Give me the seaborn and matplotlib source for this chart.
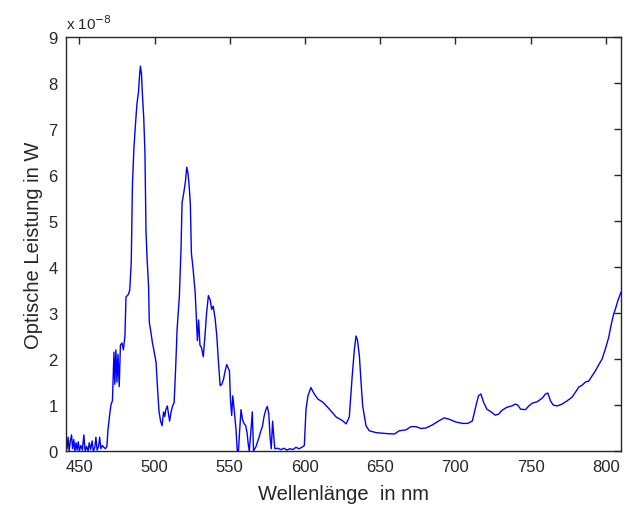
import matplotlib
matplotlib.use("Agg")
import matplotlib.pyplot as plt
import numpy as np
import pandas as pd
import seaborn as sns

# wavelength in nm, optical power in units of 1e-8 W
wavelength = [
    441, 441.8, 442.5, 443.2, 444, 444.8, 445.5, 446.3, 447, 447.8,
    448.5, 449.3, 450, 451, 452, 453, 453.8, 454.8, 455.8, 456.6,
    457.5, 458.5, 459.3, 460.3, 461, 461.8, 462.8, 463.5, 464.3, 465.3,
    466.3, 467.3, 468.3, 469, 470, 471, 472, 473, 473.6, 474.3,
    475, 475.7, 476.5, 477.3, 478.3, 479.3, 480.3, 481, 482.5, 483.5,
    484.5, 485.3, 486.3, 487.3, 488.3, 489.3, 490, 490.6, 491.3, 492,
    492.8, 493.6, 494.3, 495, 496, 496.5, 497.5, 498.5, 499.5, 501,
    502, 503, 504, 505, 506, 506.8, 507.5, 508.5, 509.3, 510,
    511, 512, 513, 514, 515, 516.5, 517.6, 518.3, 519.5, 520.5,
    521.4, 522.2, 523, 523.8, 524.5, 525.5, 527, 528.5, 529.3, 530.2,
    531.2, 532.4, 533.5, 534.6, 535.8, 537, 538, 539, 540.3, 541.4,
    542.5, 543.6, 544.7, 545.8, 547, 548, 549, 549.8, 550.5, 551.3,
    552, 552.8, 553.5, 554.2, 555, 555.8, 556.5, 557.5, 558.5, 559.5,
    560.6, 561.5, 562.3, 563, 564, 565, 565.8, 567.5, 569.5, 570.6,
    571.7, 572.8, 574, 575, 576, 576.8, 577.6, 578.5, 579.3, 580,
    582, 584, 586, 588, 590, 592, 594, 596, 598, 599.6,
    600.7, 602, 604, 606, 608.6, 612, 616.3, 620.7, 625, 627.4,
    629.5, 631.3, 632.9, 634, 635, 636.2, 637.3, 638.4, 640.6, 642.8,
    647.3, 653.9, 659.5, 662.8, 667.2, 670.5, 673.8, 677.1, 680.5, 684.9,
    689.3, 692.6, 696, 700.4, 704.8, 708.2, 711.3, 713.7, 715.4, 717,
    718.8, 721, 724.3, 726.5, 728.7, 730.9, 734.2, 737.6, 739.8, 741.5,
    743.4, 746.7, 748.9, 751.1, 754.4, 757.8, 760, 761.5, 763.3, 765.1,
    767.7, 771, 774.3, 777.6, 779.9, 782.1, 784.3, 786.5, 788.7, 790.9,
    793.1, 795.3, 797.6, 799.8, 802, 803.5, 805.3, 806.4, 808, 809.7,
    810,
]
power = [
    0.40, 0.05, 0.30, 0.00, 0.22, 0.35, 0.05, 0.25, 0.00, 0.18,
    0.02, 0.20, 0.00, 0.12, 0.02, 0.35, 0.00, 0.10, 0.00, 0.18,
    0.03, 0.22, 0.00, 0.08, 0.30, 0.02, 0.10, 0.30, 0.05, 0.12,
    0.08, 0.05, 0.10, 0.45, 0.75, 1.00, 1.10, 2.15, 1.45, 2.20,
    1.50, 2.10, 1.40, 2.30, 2.35, 2.20, 2.50, 3.35, 3.40, 3.50,
    4.10, 5.80, 6.60, 7.10, 7.55, 7.80, 8.15, 8.37, 8.20, 7.70,
    7.25, 6.50, 4.80, 4.20, 3.60, 2.80, 2.60, 2.37, 2.20, 1.93,
    1.35, 0.85, 0.65, 0.55, 0.85, 0.75, 0.90, 0.98, 0.80, 0.65,
    0.85, 0.98, 1.05, 1.78, 2.65, 3.37, 4.40, 5.40, 5.63, 5.85,
    6.17, 6.05, 5.77, 5.37, 4.30, 4.00, 3.45, 2.40, 2.85, 2.30,
    2.25, 2.05, 2.50, 3.00, 3.38, 3.28, 3.08, 3.15, 2.87, 2.50,
    1.93, 1.42, 1.45, 1.55, 1.75, 1.88, 1.80, 1.74, 1.10, 0.77,
    1.20, 0.95, 0.70, 0.45, 0.00, 0.00, 0.40, 0.90, 0.68, 0.60,
    0.55, 0.40, 0.15, 0.00, 0.40, 0.85, 0.00, 0.10, 0.30, 0.43,
    0.53, 0.75, 0.90, 0.97, 0.80, 0.30, 0.05, 0.65, 0.30, 0.05,
    0.06, 0.03, 0.06, 0.02, 0.05, 0.03, 0.08, 0.05, 0.08, 0.12,
    0.90, 1.20, 1.38, 1.25, 1.13, 1.06, 0.91, 0.74, 0.66, 0.59,
    0.74, 1.57, 2.22, 2.50, 2.40, 2.07, 1.50, 0.98, 0.55, 0.44,
    0.40, 0.38, 0.37, 0.44, 0.46, 0.53, 0.53, 0.49, 0.50, 0.57,
    0.66, 0.72, 0.69, 0.63, 0.60, 0.60, 0.65, 0.98, 1.20, 1.24,
    1.06, 0.91, 0.84, 0.78, 0.80, 0.88, 0.95, 0.98, 1.02, 1.00,
    0.91, 0.90, 0.98, 1.04, 1.07, 1.15, 1.24, 1.26, 1.09, 1.00,
    0.98, 1.02, 1.09, 1.17, 1.28, 1.39, 1.43, 1.50, 1.52, 1.63,
    1.74, 1.87, 2.00, 2.22, 2.47, 2.72, 2.98, 3.08, 3.26, 3.41,
    3.45,
]
x_ticks = [450, 500, 550, 600, 650, 700, 750, 800]
y_ticks = [0, 1, 2, 3, 4, 5, 6, 7, 8, 9]

sns.set_style("white")
plt.rcParams["font.family"] = ["Liberation Sans", "DejaVu Sans"]

df = pd.DataFrame({"wl": wavelength, "p": power})

fig = plt.figure(figsize=(6.27, 5.06), dpi=100)
ax = fig.add_axes([0.105, 0.1067, 0.885, 0.818])
sns.lineplot(data=df, x="wl", y="p", color="#0000ff", linewidth=1.0,
             estimator=None, sort=False, ax=ax)

ax.set_xlim(441, 810)
ax.set_ylim(0, 9)
ax.set_xticks(x_ticks)
ax.set_yticks(y_ticks)
ax.tick_params(direction="in", length=5, width=1, top=True, right=True,
               labelsize=12, colors="#262626", pad=6)
for s in ax.spines.values():
    s.set_color("#262626")
    s.set_linewidth(1)

ax.set_xlabel("Wellenlänge  in nm", fontsize=14.5, labelpad=7)
ax.set_ylabel("Optische Leistung in W", fontsize=14.5, labelpad=4)
ax.text(0.0, 1.012, "x 10$^{-8}$", transform=ax.transAxes, fontsize=11,
        ha="left", va="bottom", color="#262626")

fig.savefig("out.png", dpi=100)
